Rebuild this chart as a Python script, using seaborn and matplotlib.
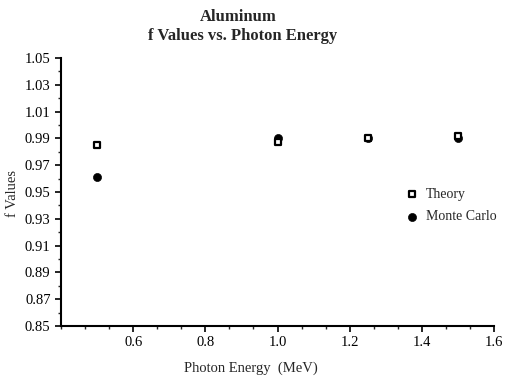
import matplotlib
matplotlib.use('Agg')
import matplotlib.pyplot as plt
import pandas as pd
import numpy as np
import seaborn as sns
from matplotlib.ticker import MultipleLocator, FixedLocator

# data
energy_theory = [0.5, 1.0, 1.25, 1.5]
f_theory = [0.985, 0.987, 0.990, 0.992]
energy_mc = [0.5, 1.0, 1.25, 1.5]
f_mc = [0.961, 0.990, 0.990, 0.990]

df = pd.concat([
    pd.DataFrame({'Energy': energy_theory, 'f': f_theory, 'Type': 'Theory'}),
    pd.DataFrame({'Energy': energy_mc, 'f': f_mc, 'Type': 'Monte Carlo'}),
])

sns.set_style('ticks')
plt.rcParams['font.family'] = ['Liberation Serif', 'DejaVu Serif']

fig = plt.figure(figsize=(5.06, 3.79), dpi=100)
ax = fig.add_axes([0.1206, 0.1398, 0.8557, 0.7072])

sns.scatterplot(data=df[df['Type'] == 'Monte Carlo'], x='Energy', y='f',
                marker='o', s=34, color='black', edgecolor='black', ax=ax,
                label='Monte Carlo', zorder=3)
sns.scatterplot(data=df[df['Type'] == 'Theory'], x='Energy', y='f',
                marker='s', s=20, facecolor='white', edgecolor='black',
                linewidth=1.6, ax=ax, label='Theory', zorder=4)

ax.set_xlim(0.4, 1.6)
ax.set_ylim(0.85, 1.05)
ax.xaxis.set_major_locator(FixedLocator([0.6, 0.8, 1.0, 1.2, 1.4, 1.6]))
ax.xaxis.set_minor_locator(MultipleLocator(0.2 / 3))
ax.set_xticklabels(['0.6', '0.8', '1.0', '1.2', '1.4', '1.6'])
ax.set_yticks(np.arange(0.85, 1.051, 0.02))
ax.set_yticklabels(['%.2f' % v for v in np.arange(0.85, 1.051, 0.02)])
ax.yaxis.set_minor_locator(MultipleLocator(0.01))
ax.tick_params(which='major', length=4, width=1.2, labelsize=10.5, direction='out', colors='black')
ax.tick_params(which='minor', length=2.5, width=1.0, direction='out')
for s in ['top', 'right']:
    ax.spines[s].set_visible(False)
for s in ['left', 'bottom']:
    ax.spines[s].set_linewidth(1.5)
    ax.spines[s].set_color('black')
ax.set_xlabel('')
ax.set_ylabel('')

handles, labels = ax.get_legend_handles_labels()
order = [labels.index('Theory'), labels.index('Monte Carlo')]
ax.legend([handles[i] for i in order], [labels[i] for i in order],
          loc='center left', bbox_to_anchor=(0.795, 0.45), frameon=False,
          fontsize=10, handlelength=1.0, handletextpad=0.5, labelspacing=0.7,
          borderaxespad=0, borderpad=0)

fig.text(0.47, 0.955, 'Aluminum', ha='center', va='center', fontsize=12, fontweight='bold')
fig.text(0.48, 0.905, 'f Values vs. Photon Energy', ha='center', va='center', fontsize=12, fontweight='bold')
fig.text(0.495, 0.028, 'Photon Energy  (MeV)', ha='center', va='center', fontsize=10.5)
fig.text(0.025, 0.49, 'f Values', ha='center', va='center', rotation=90, fontsize=10.5)

fig.savefig('out.png', dpi=100)
